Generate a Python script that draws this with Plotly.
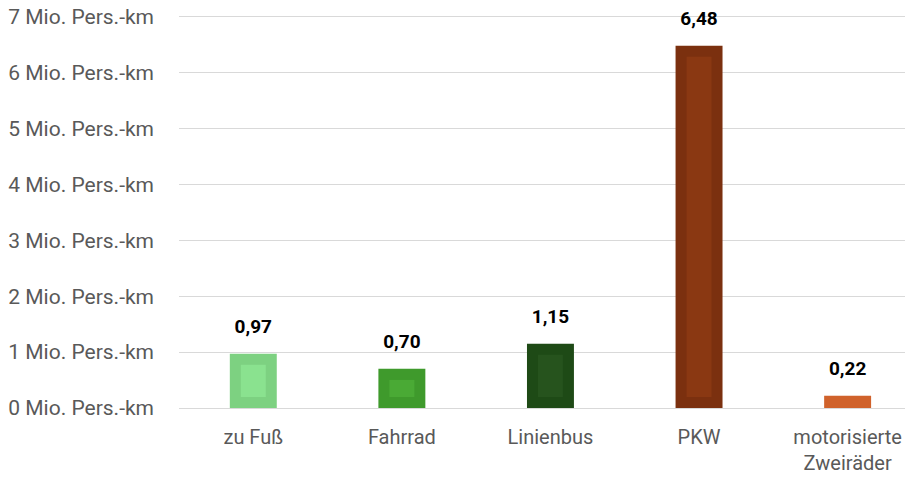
import plotly.graph_objects as go

# Data
categories = ["zu Fuß", "Fahrrad", "Linienbus", "PKW", "motorisierte<br>Zweiräder"]
values = [0.97, 0.70, 1.15, 6.48, 0.22]
fill_colors = ["#8AE28F", "#4AAA35", "#26531D", "#8A3812", "#D0622B"]
edge_colors = ["#7DD181", "#3F9A2C", "#1E4A16", "#7B300F", "#D0622B"]
tick_vals = [0, 1, 2, 3, 4, 5, 6, 7]
tick_text = [f"{v} Mio. Pers.-km" for v in tick_vals]

COLOR_TEXT = "#595959"
COLOR_GRID = "#D9D9D9"
FONT = "Roboto, Open Sans, sans-serif"

# inner highlight inset of the bars (Office-style bevel), in data units
inset = 0.197
inner_vals = [v - 2 * inset if v > 2 * inset else 0 for v in values]

fig = go.Figure()
# outer bar
fig.add_trace(go.Bar(
    x=categories, y=values, width=0.316,
    marker=dict(color=edge_colors, line=dict(width=0)),
    hoverinfo="skip",
))
# inner bar
fig.add_trace(go.Bar(
    x=categories, y=inner_vals, base=inset, width=0.168,
    marker=dict(color=fill_colors, line=dict(width=0)),
    hoverinfo="skip",
))
# value labels
fig.add_trace(go.Scatter(
    x=categories, y=values,
    mode="markers+text",
    marker=dict(size=24, opacity=0),
    text=[f"{v:.2f}".replace(".", ",") for v in values],
    textposition="top center",
    textfont=dict(color="#000000", size=19, family=FONT, weight="bold"),
    cliponaxis=False,
    hoverinfo="skip",
))

# the page body has an 8px margin, so the figure is a bit smaller than the window
fig.update_layout(
    width=905, height=469,
    paper_bgcolor="white",
    plot_bgcolor="white",
    showlegend=False,
    barmode="overlay",
    font=dict(color=COLOR_TEXT, family=FONT, size=20),
    margin=dict(l=171, r=0, t=7, b=69),
)
fig.update_xaxes(
    range=[-0.5, 4.44],
    showgrid=False,
    showline=False,
    zeroline=False,
    automargin=False,
    tickfont=dict(color=COLOR_TEXT, size=20),
    ticklabelstandoff=15,
)
# a little headroom above 7 so the top gridline is not clipped at the edge
fig.update_yaxes(
    range=[0, 7.03],
    tickvals=tick_vals,
    ticktext=tick_text,
    showgrid=True,
    gridcolor=COLOR_GRID,
    gridwidth=1,
    zeroline=True,
    zerolinecolor=COLOR_GRID,
    zerolinewidth=1,
    automargin=False,
    ticklabeloverflow="allow",
    tickfont=dict(color=COLOR_TEXT, size=21),
    ticklabelstandoff=24,
)

fig.write_html("out.html")
